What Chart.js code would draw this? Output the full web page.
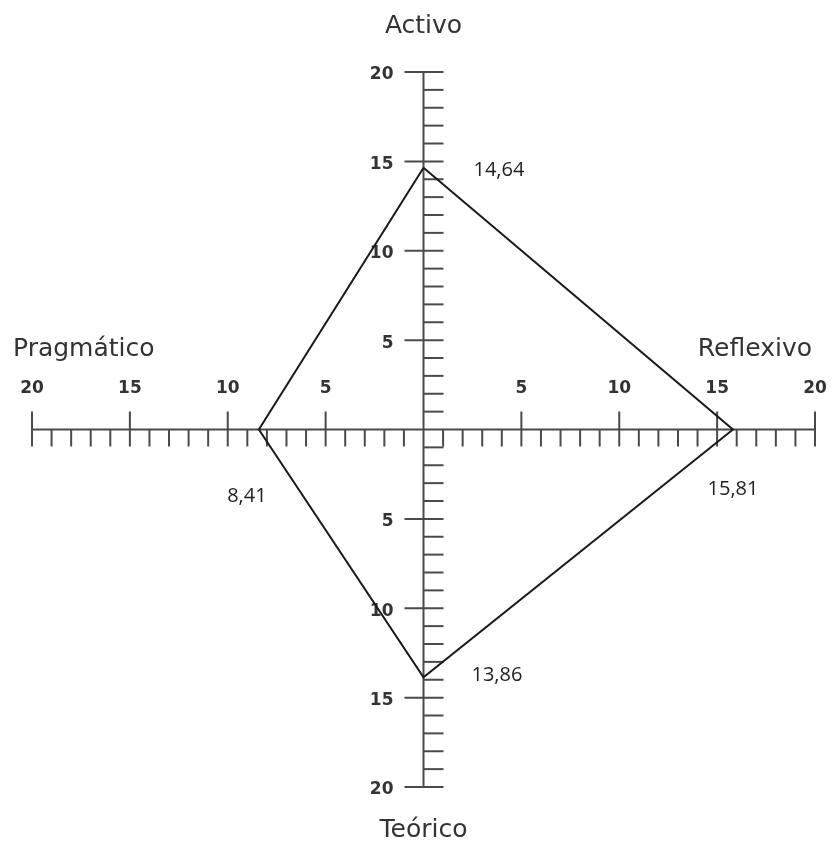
<!DOCTYPE html>
<html><head><meta charset="utf-8">
<script src="https://cdn.jsdelivr.net/npm/chart.js@4/dist/chart.umd.min.js"></script>
<style>html,body{margin:0;padding:0;background:#fff}#wrap{width:833px;height:841px}</style>
</head><body><div id="wrap"><canvas id="c" width="833" height="841"></canvas></div>
<script>
// ---- data ----
const categories = ['Activo', 'Reflexivo', 'Teórico', 'Pragmático'];
const values = [14.64, 15.81, 13.86, 8.41];
const valueLabels = ['14,64', '15,81', '13,86', '8,41'];
const tickLabels = [5, 10, 15, 20];
const axisMin = -20;
const axisMax = 20;
// direction of each category arm on the cross (up, right, down, left)
const directions = [[0, 1], [1, 0], [0, -1], [-1, 0]];

const points = values.map((v, i) => ({ x: directions[i][0] * v, y: directions[i][1] * v }));
points.push(points[0]);

const crossPlugin = {
  id: 'cross',
  beforeDatasetsDraw(chart) {
    const ctx = chart.ctx, xs = chart.scales.x, ys = chart.scales.y;
    const x0 = xs.getPixelForValue(0), y0 = ys.getPixelForValue(0);
    ctx.save();
    ctx.strokeStyle = '#4a4a4a';
    ctx.lineWidth = 2;
    ctx.lineCap = 'butt';
    const line = (a, b, c, d) => { ctx.beginPath(); ctx.moveTo(a, b); ctx.lineTo(c, d); ctx.stroke(); };
    // horizontal axis
    line(xs.getPixelForValue(axisMin), y0, xs.getPixelForValue(axisMax), y0);
    // vertical axis
    line(x0, ys.getPixelForValue(axisMax), x0, ys.getPixelForValue(axisMin));
    for (let v = axisMin; v <= axisMax; v++) {
      if (v === 0) continue;
      const major = tickLabels.includes(Math.abs(v));
      const px = xs.getPixelForValue(v);
      line(px, major ? y0 - 18 : y0, px, y0 + 17);
      const py = ys.getPixelForValue(v);
      line(major ? x0 - 19 : x0, py, x0 + 20, py);
    }
    // tick labels
    ctx.fillStyle = '#333';
    ctx.font = 'bold 17px "DejaVu Sans"';
    ctx.textAlign = 'center';
    ctx.textBaseline = 'alphabetic';
    tickLabels.forEach(t => {
      ctx.fillText(String(t), xs.getPixelForValue(-t), y0 - 37);
      ctx.fillText(String(t), xs.getPixelForValue(t), y0 - 37);
    });
    ctx.textAlign = 'right';
    ctx.textBaseline = 'middle';
    tickLabels.forEach(t => {
      ctx.fillText(String(t), x0 - 30, ys.getPixelForValue(t) + 3);
      ctx.fillText(String(t), x0 - 30, ys.getPixelForValue(-t) + 3);
    });
    ctx.restore();
  },
  afterDatasetsDraw(chart) {
    const ctx = chart.ctx, xs = chart.scales.x, ys = chart.scales.y;
    const x0 = xs.getPixelForValue(0), y0 = ys.getPixelForValue(0);
    ctx.save();
    // category titles
    ctx.fillStyle = '#333';
    ctx.font = '25px "DejaVu Sans"';
    ctx.textBaseline = 'alphabetic';
    ctx.textAlign = 'center';
    ctx.fillText(categories[0], x0, ys.getPixelForValue(axisMax) - 39);
    ctx.fillText(categories[2], x0, ys.getPixelForValue(axisMin) + 50);
    ctx.textAlign = 'left';
    ctx.fillText(categories[3], xs.getPixelForValue(axisMin) - 19, y0 - 74);
    ctx.textAlign = 'right';
    ctx.fillText(categories[1], xs.getPixelForValue(axisMax) - 3, y0 - 74);
    // value labels
    ctx.fillStyle = '#222';
    ctx.font = '20px "Open Sans"';
    ctx.textBaseline = 'middle';
    const offs = [[50, 2, 'left'], [0, 60, 'center'], [48, -2, 'left'], [-12, 67, 'center']];
    points.slice(0, 4).forEach((p, i) => {
      ctx.textAlign = offs[i][2];
      ctx.fillText(valueLabels[i], xs.getPixelForValue(p.x) + offs[i][0], ys.getPixelForValue(p.y) + offs[i][1]);
    });
    ctx.restore();
  }
};

new Chart(document.getElementById('c'), {
  type: 'scatter',
  data: {
    datasets: [{
      label: 'Estilos',
      data: points,
      showLine: true,
      borderColor: '#1a1a1a',
      borderWidth: 2,
      pointRadius: 0,
      fill: false,
      tension: 0
    }]
  },
  options: {
    responsive: false,
    animation: false,
    layout: { padding: { left: 32, right: 18, top: 72, bottom: 54 } },
    scales: {
      x: { type: 'linear', min: axisMin, max: axisMax, display: false },
      y: { type: 'linear', min: axisMin, max: axisMax, display: false }
    },
    plugins: { legend: { display: false }, tooltip: { enabled: false } }
  },
  plugins: [crossPlugin]
});
</script></body></html>
